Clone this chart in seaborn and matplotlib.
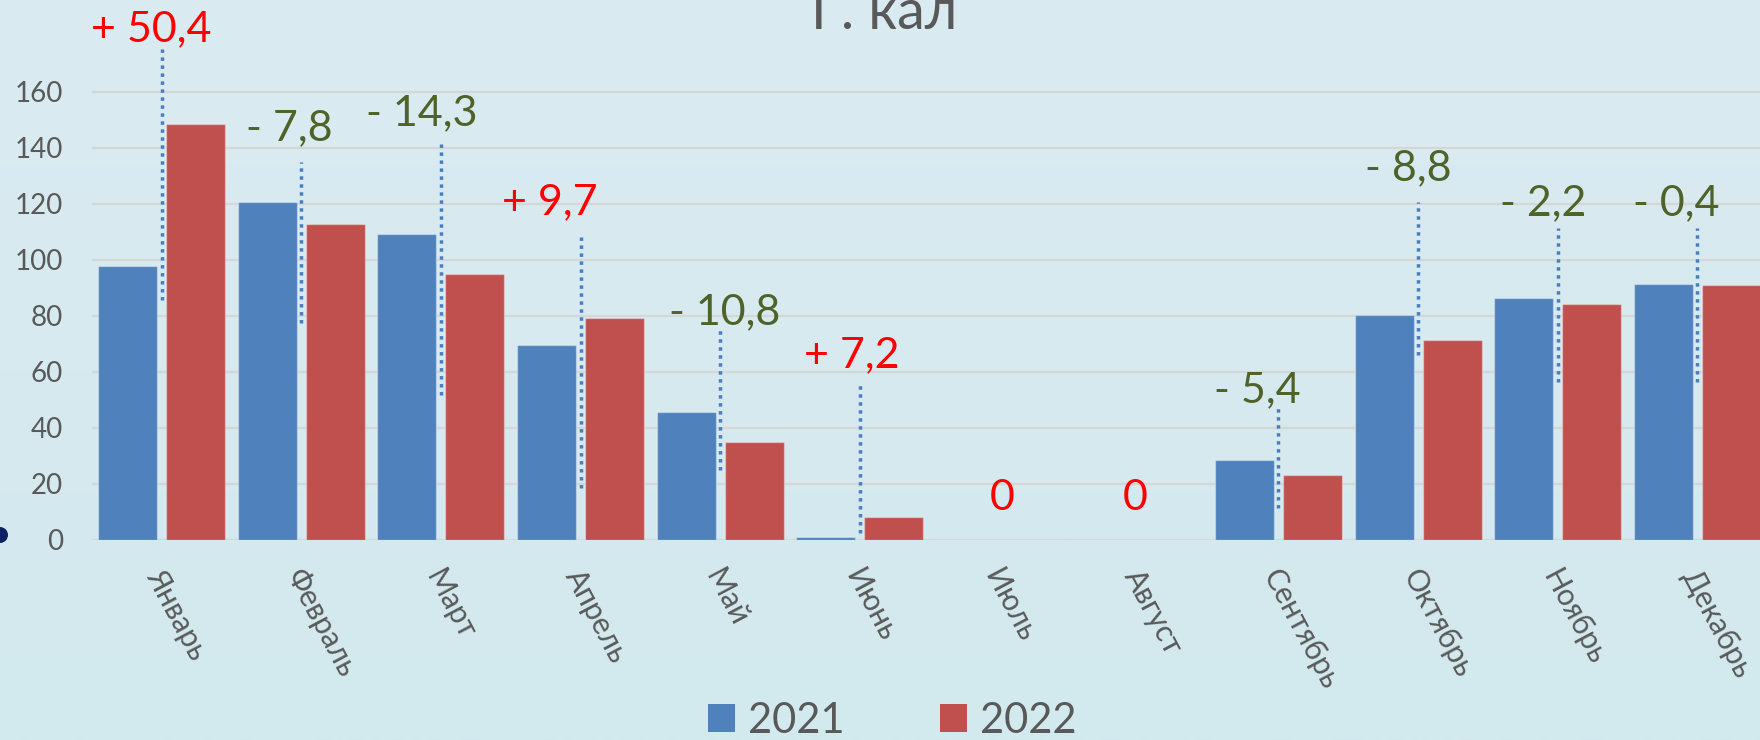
import numpy as np
import pandas as pd
import matplotlib
matplotlib.use("Agg")
import matplotlib.pyplot as plt
import seaborn as sns
from matplotlib.transforms import ScaledTranslation
from matplotlib.patches import Circle, Patch

# ---------------- data ----------------
months = ["Январь", "Февраль", "Март", "Апрель", "Май", "Июнь",
          "Июль", "Август", "Сентябрь", "Октябрь", "Ноябрь", "Декабрь"]
values_2021 = [98.0, 120.6, 109.3, 69.7, 45.7, 1.0, 0.0, 0.0, 28.7, 80.2, 86.5, 91.4]
values_2022 = [148.4, 112.8, 95.0, 79.4, 34.9, 8.2, 0.0, 0.0, 23.3, 71.4, 84.3, 91.0]
years = ["2021", "2022"]
yticks = [0, 20, 40, 60, 80, 100, 120, 140, 160]
title = "Г. кал"

# ---------------- layout (annotation placement) ----------------
label_dx = [-0.075, -0.09, -0.14, -0.22, 0.03, -0.06, 0.02, -0.03, -0.15, -0.07, -0.10, -0.15]
label_y = [182.5, 147, 152.5, 120.7, 81.4, 66, 15, 15, 53.6, 132.8, 120.3, 120.3]
line_lo = [85.7, 77.5, 51.8, 18.6, 25.0, 2.5, None, None, 11.4, 66.0, 56.4, 56.4]
line_hi = [175.4, 135.0, 142.1, 108.2, 75.7, 56.0, None, None, 47.0, 120.7, 111.4, 111.4]

BLUE = "#4F81BD"
RED = "#C0504D"
GRAY = "#595959"
POS = "#FF0000"
NEG = "#4F6228"

sns.set_theme(style="white")
plt.rcParams["font.family"] = ["Lato", "Open Sans", "DejaVu Sans"]

W, H = 1760, 740
fig = plt.figure(figsize=(W / 100, H / 100), dpi=100)

# background gradient
bg = fig.add_axes([0, 0, 1, 1], zorder=-10)
top = np.array([219, 235, 242]) / 255
bot = np.array([210, 233, 238]) / 255
t = np.linspace(0, 1, 256)[:, None]
grad = top[None, :] * (1 - t) + bot[None, :] * t
bg.imshow(grad[:, None, :], aspect="auto", extent=[0, 1, 0, 1])
bg.set_axis_off()
fig.patch.set_facecolor(tuple(top))

# axes geometry
ax_left = 92 / W
ax_width = (1767 - 92) / W
y0_px, y160_px = 540, 92
ymax = 172
ax_bottom = (H - y0_px) / H
ax_height = (y0_px - y160_px) / H * ymax / 160
ax = fig.add_axes([ax_left, ax_bottom, ax_width, ax_height])
ax.patch.set_alpha(0)

df = pd.DataFrame({
    "month": months * 2,
    "year": [years[0]] * 12 + [years[1]] * 12,
    "value": values_2021 + values_2022,
})

sns.barplot(data=df, x="month", y="value", hue="year", order=months,
            hue_order=years, palette=[BLUE, RED], width=0.974, gap=0.132,
            ax=ax, legend=False, zorder=3, linewidth=0, saturation=1)
for bar in ax.patches:
    bar.set_edgecolor((1, 1, 1, 0.35))
    bar.set_linewidth(1.0)

ax.set_xlim(-0.5, 11.5)
ax.set_ylim(0, ymax)
ax.set_yticks(yticks)
ax.set_yticklabels([str(v) for v in yticks])
for v in yticks:
    ax.axhline(v, color="#D6D6D6", lw=1.6, zorder=1)
for s in ax.spines.values():
    s.set_visible(False)
ax.grid(False)
ax.set_xlabel("")
ax.set_ylabel("")
ax.tick_params(axis="y", length=0, pad=21, labelsize=20, labelcolor=GRAY)
ax.tick_params(axis="x", length=0, pad=0, labelsize=21.5, labelcolor=GRAY)
ax.set_xticks(range(12))
ax.set_xticklabels(months, rotation=-62, ha="left", va="center",
                   rotation_mode="anchor")
off = ScaledTranslation(-0.08, -0.31, fig.dpi_scale_trans)
for lbl in ax.get_xticklabels():
    lbl.set_transform(lbl.get_transform() + off)

# dotted connector lines and difference labels
for i in range(12):
    if line_lo[i] is not None:
        ax.plot([i, i], [line_lo[i], line_hi[i]], color="#4A7EC2", lw=2.5,
                linestyle=(0, (1, 1.3)), dash_capstyle="butt", zorder=4,
                clip_on=False)
    d = round(values_2022[i] - values_2021[i], 1)
    if d > 0:
        txt, col = "+ " + f"{abs(d):.1f}".replace(".", ","), POS
    elif d < 0:
        txt, col = "- " + f"{abs(d):.1f}".replace(".", ","), NEG
    else:
        txt, col = "0", POS
    ax.text(i + label_dx[i], label_y[i], txt, ha="center", va="center",
            fontsize=31, color=col, clip_on=False, zorder=5)

# title (cut at the top like the reference)
fig.text(884 / W, 1 - 29 / H, title, ha="center", va="baseline",
         fontsize=40, color=GRAY)

# legend
handles = [Patch(facecolor=BLUE, edgecolor="none"), Patch(facecolor=RED, edgecolor="none")]
fig.legend(handles, years, loc="center", ncol=2,
           bbox_to_anchor=(892 / W, 1 - 721 / H), bbox_transform=fig.transFigure,
           frameon=False, fontsize=30, labelcolor=GRAY,
           handlelength=0.65, handleheight=0.65, handletextpad=0.3,
           columnspacing=2.3, borderpad=0, borderaxespad=0)

# dark dot at left edge
fig.patches.append(Circle((0, (H - 535) / 100), 0.08, transform=fig.dpi_scale_trans,
                          facecolor="#0B2161", edgecolor="none"))

fig.savefig("out.png", dpi=100)
